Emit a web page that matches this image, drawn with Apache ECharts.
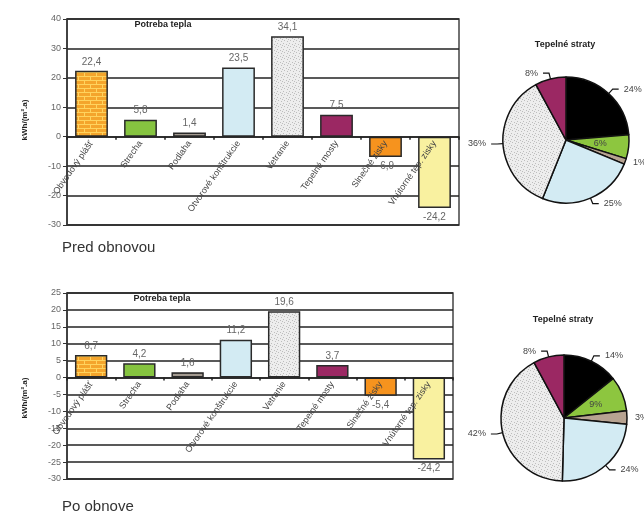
<!DOCTYPE html>
<html>
<head>
<meta charset="utf-8">
<script src="https://cdn.jsdelivr.net/npm/echarts@6/dist/echarts.min.js"></script>
<style>
  html, body { margin: 0; padding: 0; background: #fff; }
  #chart { width: 644px; height: 513px; }
</style>
</head>
<body>
<div id="chart"></div>
<script>
// Heat demand components (kWh/(m².a)) before and after renovation
const categories = ['Obvodový plášť', 'Strecha', 'Podlaha', 'Otvorové konštrukcie', 'Vetranie', 'Tepelné mosty', 'Slnečné zisky', 'Vnútorné tep. zisky'];
const valuesBefore = [22.4, 5.8, 1.4, 23.5, 34.1, 7.5, -6.9, -24.2];
const valuesAfter = [6.7, 4.2, 1.6, 11.2, 19.6, 3.7, -5.4, -24.2];
// heat loss items only (first six categories) feed the pies
const lossCount = 6;
const axisBefore = { min: -30, max: 40, interval: 10 };
const axisAfter = { min: -30, max: 25, interval: 5 };
const barTitle = 'Potreba tepla';
const pieTitle = 'Tepelné straty';
const unitName = 'kWh/(m².a)';
const captionBefore = 'Pred obnovou';
const captionAfter = 'Po obnove';

const FONT = '"Liberation Sans", Arial, sans-serif';

// plot boxes for the two bar charts
const gridBefore = { left: 67, top: 19, width: 392, height: 206 };
const gridAfter = { left: 67, top: 293, width: 386, height: 186 };

function makePattern(w, h, draw) {
  const c = document.createElement('canvas');
  c.width = w; c.height = h;
  draw(c.getContext('2d'));
  return { image: c, repeat: 'repeat' };
}
const brick = makePattern(12, 8, g => {
  g.fillStyle = '#f4a52c'; g.fillRect(0, 0, 12, 8);
  g.fillStyle = '#ffd35e';
  g.fillRect(0, 0, 12, 1); g.fillRect(0, 4, 12, 1);
  g.fillRect(0, 0, 1, 4); g.fillRect(6, 4, 1, 4);
});
const stipple = makePattern(6, 6, g => {
  g.fillStyle = '#ededed'; g.fillRect(0, 0, 6, 6);
  g.fillStyle = '#bdbdbd';
  [[1, 1], [4, 2], [2, 4], [5, 5], [0, 3]].forEach(p => g.fillRect(p[0], p[1], 1, 1));
});
const floorHatch = makePattern(4, 4, g => {
  g.fillStyle = '#a39a90'; g.fillRect(0, 0, 4, 4);
  g.fillStyle = '#6f6860'; g.fillRect(0, 1, 4, 1);
});

const barColors = [brick, '#86c440', floorHatch, '#d3ebf3', stipple, '#9b2863', '#f6931e', '#f9f1a0'];
const pieColors = ['#000000', '#8dc63f', '#b7a391', '#d3ebf3', stipple, '#9b2863'];

const fmt = v => String(v).replace('.', ',');

function barData(values) {
  return values.map((v, i) => ({
    value: v,
    itemStyle: { color: barColors[i] },
    label: { position: v < 0 ? 'bottom' : 'top' }
  }));
}
function pieData(values) {
  return values.slice(0, lossCount).map((v, i) => {
    const item = { name: categories[i], value: v, itemStyle: { color: pieColors[i] } };
    if (i === 1) item.label = { position: 'inside' };
    // the thin floor slice carries its label right at the rim
    if (i === 2) item.labelLine = { show: false, length: 3, length2: 0 };
    return item;
  });
}

// category axis drawn along the zero line of the value axis
function xAxis(gridIndex, grid, cfg) {
  const zeroOffset = -grid.height * (0 - cfg.min) / (cfg.max - cfg.min);
  return {
    type: 'category', gridIndex, data: categories,
    offset: zeroOffset,
    z: 5,
    axisLine: { onZero: false, lineStyle: { color: '#222', width: 1.5 } },
    axisTick: { show: true, length: 3, lineStyle: { color: '#222', width: 1.5 } },
    axisLabel: { rotate: 55, fontSize: 9, color: '#444', fontFamily: FONT, margin: 5, interval: 0 }
  };
}
function yAxis(gridIndex, cfg) {
  return {
    type: 'value', gridIndex, min: cfg.min, max: cfg.max, interval: cfg.interval,
    axisLine: { show: true, onZero: false, lineStyle: { color: '#333', width: 1.5 } },
    axisTick: { show: true, length: 4, lineStyle: { color: '#333' } },
    axisLabel: { fontSize: 9, color: '#666', fontFamily: FONT, margin: 6 },
    splitLine: { show: true, lineStyle: { color: '#222', width: 1.6 } }
  };
}
function barSeries(idx, values) {
  return {
    type: 'bar', xAxisIndex: idx, yAxisIndex: idx,
    data: barData(values),
    barCategoryGap: '33%',
    itemStyle: { borderColor: '#2a2a2a', borderWidth: 1.5 },
    label: { show: true, fontSize: 10, color: '#666', fontFamily: FONT, distance: 4,
             formatter: p => fmt(p.value) }
  };
}
function pieSeries(center, values) {
  return {
    type: 'pie', center, radius: 63, startAngle: 90, clockwise: true,
    percentPrecision: 0,
    data: pieData(values),
    itemStyle: { borderColor: '#111', borderWidth: 1.5 },
    label: { fontSize: 9, color: '#444', fontFamily: FONT, formatter: '{d}%', overflow: 'none' },
    labelLine: { length: 6, length2: 6, lineStyle: { color: '#111', width: 1.2 } },
    emphasis: { disabled: true }
  };
}
function text(x, y, str, extra) {
  return Object.assign({
    type: 'text', x, y,
    style: Object.assign({ text: str, fontFamily: FONT, fill: '#222', align: 'center', verticalAlign: 'middle' }, extra.style || {})
  }, extra.rotation ? { rotation: extra.rotation } : {});
}

const chart = echarts.init(document.getElementById('chart'), null, { renderer: 'canvas' });
chart.setOption({
  backgroundColor: '#fff',
  animation: false,
  grid: [
    Object.assign({ show: true, borderColor: '#444', borderWidth: 1.5 }, gridBefore),
    Object.assign({ show: true, borderColor: '#444', borderWidth: 1.5 }, gridAfter)
  ],
  xAxis: [xAxis(0, gridBefore, axisBefore), xAxis(1, gridAfter, axisAfter)],
  yAxis: [yAxis(0, axisBefore), yAxis(1, axisAfter)],
  series: [
    barSeries(0, valuesBefore),
    barSeries(1, valuesAfter),
    pieSeries([566, 140], valuesBefore),
    pieSeries([564, 418], valuesAfter)
  ],
  graphic: [
    text(163, 25, barTitle, { style: { fontSize: 9, fontWeight: 'bold' } }),
    text(162, 299, barTitle, { style: { fontSize: 9, fontWeight: 'bold' } }),
    text(565, 45, pieTitle, { style: { fontSize: 9, fontWeight: 'bold' } }),
    text(563, 320, pieTitle, { style: { fontSize: 9, fontWeight: 'bold' } }),
    text(25, 120, unitName, { rotation: Math.PI / 2, style: { fontSize: 8, fontWeight: 'bold' } }),
    text(25, 398, unitName, { rotation: Math.PI / 2, style: { fontSize: 8, fontWeight: 'bold' } }),
    text(62, 248, captionBefore, { style: { fontSize: 15, align: 'left', fill: '#333' } }),
    text(62, 507, captionAfter, { style: { fontSize: 15, align: 'left', fill: '#333' } })
  ]
});
</script>
</body>
</html>
